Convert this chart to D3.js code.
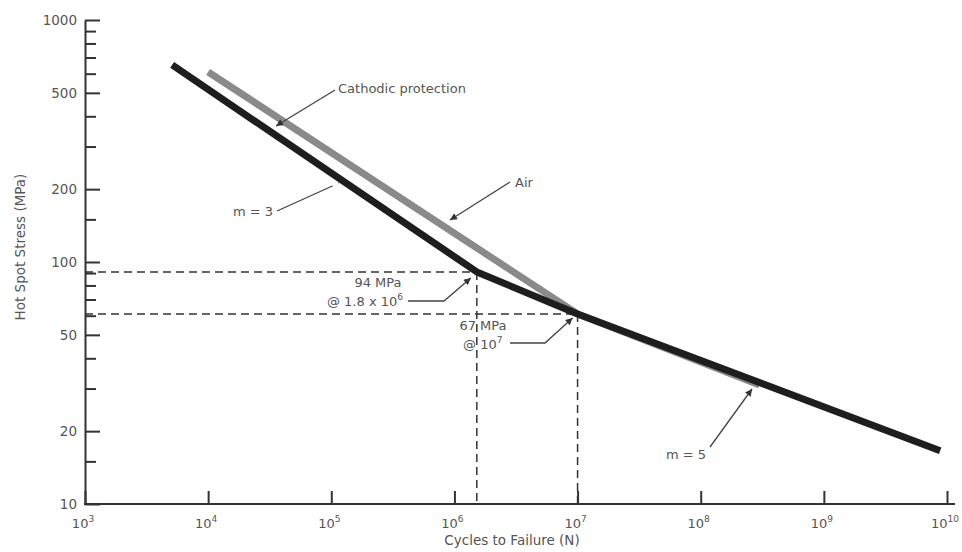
<!DOCTYPE html>
<html>
<head>
<meta charset="utf-8">
<script src="https://cdn.jsdelivr.net/npm/d3@7"></script>
<style>
  body { margin: 0; background: #fff; }
  text { font-family: "DejaVu Sans", sans-serif; fill: #555; }
</style>
</head>
<body>
<div id="chart"></div>
<script>
// S-N curves
var cpCycles = [5100, 1.52e6, 1e7, 8.8e9];     // cathodic protection (black)
var cpStress = [652, 91, 61, 16.6];
var airCycles = [1e4, 1e7, 3e8];                // air (grey)
var airStress = [610, 61, 31];

var xTicks = [1e3, 1e4, 1e5, 1e6, 1e7, 1e8, 1e9, 1e10];
var xExp = ["3", "4", "5", "6", "7", "8", "9", "10"];
var yMajor = [10, 20, 50, 100, 200, 500, 1000];
var yMinor = [15, 30, 40, 60, 70, 80, 90, 150, 300, 400, 600, 700, 800, 900];

// reference points with dashed guides
var kneeCycles = [1.52e6, 1e7];
var kneeStress = [91, 61];

var svgWidth = 962;
var svgHeight = 552;

var svg = d3.select("#chart")
  .append("svg")
  .attr("width", svgWidth)
  .attr("height", svgHeight);

var x = d3.scaleLog().domain([1e3, 1e10]).range([85, 947]);
var y = d3.scaleLog().domain([10, 1000]).range([504, 20]);

var axisColor = "#333";

// arrow head for the leaders
svg.append("defs").selectAll("marker")
  .data([["arrow", "#333"], ["arrowWhite", "#fff"]])
  .enter().append("marker")
  .attr("id", d => d[0])
  .attr("viewBox", "0 0 10 10")
  .attr("refX", 10).attr("refY", 5)
  .attr("markerWidth", 9).attr("markerHeight", 7)
  .attr("markerUnits", "userSpaceOnUse")
  .attr("orient", "auto")
  .append("path")
  .attr("d", "M0,0L10,5L0,10z")
  .attr("fill", d => d[1]);

// dashed guides
var guides = svg.append("g")
  .attr("stroke", "#333")
  .attr("stroke-width", 1.5)
  .attr("stroke-dasharray", "8,5")
  .attr("fill", "none");

kneeCycles.forEach(function(n, i) {
  guides.append("line")
    .attr("x1", x(1e3)).attr("x2", x(n))
    .attr("y1", y(kneeStress[i])).attr("y2", y(kneeStress[i]));
  guides.append("line")
    .attr("x1", x(n)).attr("x2", x(n))
    .attr("y1", y(kneeStress[i])).attr("y2", y(10));
});

// curves
var line = d3.line()
  .x(d => x(d[0]))
  .y(d => y(d[1]));

svg.append("path")
  .datum(airCycles.map((n, i) => [n, airStress[i]]))
  .attr("d", line)
  .attr("fill", "none")
  .attr("stroke", "#8a8a8a")
  .attr("stroke-width", 7);

svg.append("path")
  .datum(cpCycles.map((n, i) => [n, cpStress[i]]))
  .attr("d", line)
  .attr("fill", "none")
  .attr("stroke", "#1e1e1e")
  .attr("stroke-width", 7)
  .attr("stroke-linejoin", "round");

// axes
var xAxis = svg.append("g")
  .attr("transform", `translate(0, ${y(10)})`)
  .call(d3.axisBottom(x).tickValues(xTicks).tickSizeInner(-13).tickSizeOuter(0).tickFormat(""));
xAxis.select(".domain").remove();
xAxis.selectAll("line").attr("stroke", axisColor).attr("stroke-width", 2);
xAxis.append("line")
  .attr("x1", x(1e3) - 1).attr("x2", x(1e10) + 8)
  .attr("stroke", axisColor).attr("stroke-width", 2);

var yAxis = svg.append("g")
  .attr("transform", `translate(${x(1e3)}, 0)`)
  .call(d3.axisLeft(y).tickValues(yMajor).tickSizeInner(-15).tickSizeOuter(0)
    .tickPadding(8).tickFormat(d => d));
yAxis.select(".domain").attr("stroke", axisColor).attr("stroke-width", 2);
yAxis.selectAll("line").attr("stroke", axisColor).attr("stroke-width", 2);
yAxis.selectAll("text")
  .attr("font-size", "13.5px")
  .style("font-family", "DejaVu Sans, sans-serif")
  .attr("fill", "#555");

var yMinorAxis = svg.append("g")
  .attr("transform", `translate(${x(1e3)}, 0)`)
  .call(d3.axisLeft(y).tickValues(yMinor).tickSizeInner(-11).tickSizeOuter(0).tickFormat(""));
yMinorAxis.select(".domain").remove();
yMinorAxis.selectAll("line").attr("stroke", axisColor).attr("stroke-width", 2);

// x tick labels with superscripts
var xLabels = svg.append("g").selectAll("text")
  .data(xTicks)
  .enter().append("text")
  .attr("x", d => x(d) - 2)
  .attr("y", y(10) + 24)
  .attr("text-anchor", "middle")
  .attr("font-size", "13px");
xLabels.append("tspan").text("10");
xLabels.append("tspan")
  .attr("dy", -6)
  .attr("font-size", "9px")
  .text((d, i) => xExp[i]);

// axis titles
svg.append("text")
  .attr("transform", "translate(25, 247) rotate(-90)")
  .attr("text-anchor", "middle")
  .attr("font-size", "13.5px")
  .text("Hot Spot Stress (MPa)");

svg.append("text")
  .attr("x", 512)
  .attr("y", 545)
  .attr("text-anchor", "middle")
  .attr("font-size", "13.5px")
  .text("Cycles to Failure (N)");

// annotations
var leaders = svg.append("g")
  .attr("fill", "none")
  .attr("stroke", "#444")
  .attr("stroke-width", 1.3);

function leader(pts, marker) {
  leaders.append("polyline")
    .attr("points", pts.map(p => p.join(",")).join(" "))
    .attr("marker-end", `url(#${marker || "arrow"})`);
}

function label(tx, ty, txt, anchor) {
  return svg.append("text")
    .attr("x", tx).attr("y", ty)
    .attr("text-anchor", anchor || "start")
    .attr("font-size", "13px")
    .text(txt);
}

label(338, 93, "Cathodic protection");
leader([[335, 90], [276, 126]]);

label(273, 216, "m = 3", "end");
leader([[277, 211], [339, 183]], "arrowWhite");

label(515, 187, "Air");
leader([[510, 182], [450, 220]]);

label(378, 287, "94 MPa", "middle");
var t94 = label(403, 306, "@ 1.8 x 10", "end");
t94.append("tspan").attr("dy", -6).attr("font-size", "9px").text("6");
leader([[408, 301], [444, 301], [x(kneeCycles[0]) - 6, y(kneeStress[0]) + 6]]);

label(483, 330, "67 MPa", "middle");
var t67 = label(463, 349, "@ 10");
t67.append("tspan").attr("dy", -6).attr("font-size", "9px").text("7");
leader([[510, 343], [545, 343], [x(kneeCycles[1]) - 5, y(kneeStress[1]) + 4]]);

label(706, 459, "m = 5", "end");
leader([[710, 447], [752, 389]]);
</script>
</body>
</html>
